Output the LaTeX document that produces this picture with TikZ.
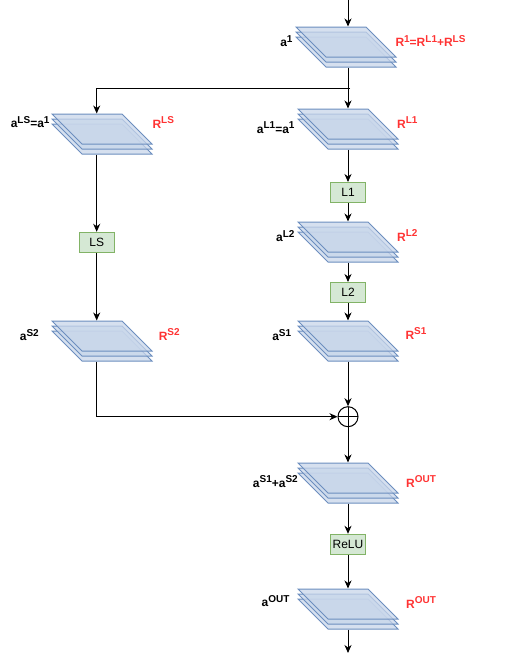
\documentclass[tikz,border=0pt]{standalone}
\usepackage{fontspec}
\setmainfont{Liberation Sans}
\usetikzlibrary{arrows.meta}
\usetikzlibrary{calc}
\usetikzlibrary{positioning}

\definecolor{layerfill}{RGB}{200,214,234}
\definecolor{layerline}{RGB}{108,142,191}
\definecolor{opfill}{RGB}{213,232,212}
\definecolor{opline}{RGB}{130,179,102}
\definecolor{rred}{RGB}{255,51,51}

\newcommand\supx[1]{\raisebox{4.5pt}{\fontsize{10}{10}\selectfont #1}}
\newcommand\layers[3]{%
  \foreach \d in {10,5,0}
    \filldraw[layer] (#2,#3+\d) -- ++(70,0) -- ++(30,30) -- ++(-70,0) -- cycle;
  \node[stackbox] (#1) at (#2+50,#3+20) {};}

\begin{document}
\begin{tikzpicture}[
  x = 1pt, y = -1pt,
  > = {Stealth[length=8pt,width=7pt,inset=2.5pt]},
  line width = 1pt,
  layer/.style = {fill=layerfill,fill opacity=.75,draw=layerline},
  stackbox/.style = {inner sep=0pt,minimum width=100pt,minimum height=40pt},
  op/.style = {draw=opline,fill=opfill,minimum width=35pt,minimum height=20pt,inner sep=0pt,font=\fontsize{12}{14}\selectfont},
  act/.style = {inner sep=0pt,font=\fontsize{12}{14}\selectfont\bfseries},
  res/.style = {act,text=rred},
  plus/.style = {draw,circle,minimum size=20pt,inner sep=0pt,
    path picture={\draw (path picture bounding box.north) -- (path picture bounding box.south)
      (path picture bounding box.west) -- (path picture bounding box.east);}}
  ]
  \useasboundingbox (0,0) rectangle (506,662);

  % stacks
  \layers{sa1}{296}{27}
  \layers{sL1}{298}{109}
  \layers{sL2}{298}{222}
  \layers{sS1}{298}{321}
  \layers{sSum}{298}{463}
  \layers{sOut}{298}{589}
  \layers{sLS}{52}{114}
  \layers{sS2}{52}{321}

  % operations
  \node[op] (L1) at (348,192.5) {L1};
  \node[op] (L2) at (348,292.5) {L2};
  \node[op] (ReLU) at (348,544.3) {ReLU};
  \node[op] (LS) at (96.7,242.3) {LS};
  \node[plus] (add) at (348,416.7) {};

  % labels
  \node[act,anchor=base east] (la1) at (293,46.5) {a\supx{1}};
  \node[res,anchor=base west] (lR1) at (395,46.7) {R\supx{1}=R\supx{L1}+R\supx{LS}};
  \node[act,anchor=base east] (laLS) at (50,127.7) {a\supx{LS}=a\supx{1}};
  \node[res,anchor=base west] (lRLS) at (152,128.3) {R\supx{LS}};
  \node[act,anchor=base east] (laL1) at (295,133.3) {a\supx{L1}=a\supx{1}};
  \node[res,anchor=base west] (lRL1) at (396.7,128.3) {R\supx{L1}};
  \node[act,anchor=base east] (laL2) at (295,241.7) {a\supx{L2}};
  \node[res,anchor=base west] (lRL2) at (396.7,241) {R\supx{L2}};
  \node[act,anchor=base east] (laS1) at (291.7,340.7) {a\supx{S1}};
  \node[res,anchor=base west] (lRS1) at (405,339.3) {R\supx{S1}};
  \node[act,anchor=base east] (laS2) at (39.3,340.7) {a\supx{S2}};
  \node[res,anchor=base west] (lRS2) at (158.3,340) {R\supx{S2}};
  \node[act,anchor=base east] (laSum) at (298.3,487.3) {a\supx{S1}+a\supx{S2}};
  \node[res,anchor=base west] (lRSum) at (405.7,487.3) {R\supx{OUT}};
  \node[act,anchor=base east] (laOut) at (290,606.7) {a\supx{OUT}};
  \node[res,anchor=base west] (lROut) at (405.7,608.3) {R\supx{OUT}};

  % connectors
  \coordinate (top) at (348,0);
  \coordinate (split) at (350,88);
  \coordinate (bot) at (348,653);
  \draw[->] (top) -- (top |- sa1.north);
  \draw[->] (L1 |- sa1.south) -- (sL1.north);
  \draw[->] (split) -| (LS |- sLS.north);
  \draw[->] (LS |- sLS.south) -- (LS.north);
  \draw[->] (LS.south) -- (LS |- sS2.north);
  \draw[->] (LS |- sS2.south) |- (add.west);
  \draw[->] (sL1.south) -- (L1.north);
  \draw[->] (L1.south) -- (sL2.north);
  \draw[->] (sL2.south) -- (L2.north);
  \draw[->] (L2.south) -- (sS1.north);
  \draw[->] (sS1.south) -- (add.north);
  \draw[->] (add.south) -- (sSum.north);
  \draw[->] (sSum.south) -- (ReLU.north);
  \draw[->] (ReLU.south) -- (sOut.north);
  \draw[->] (sOut.south) -- (bot);
\end{tikzpicture}
\end{document}
